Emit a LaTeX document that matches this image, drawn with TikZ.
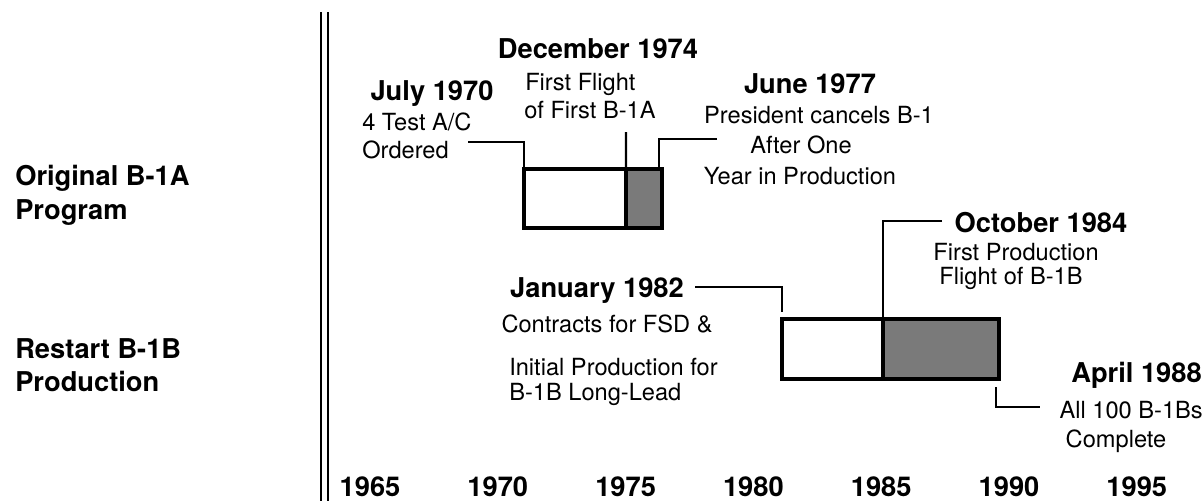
\documentclass[tikz,border=0pt]{standalone}
\usepackage{fontspec}
\setmainfont{TeX Gyre Heros}
\usepackage{tikz}
\usetikzlibrary{positioning,calc}
\definecolor{stipple}{RGB}{122,122,122}

\begin{document}
\begin{tikzpicture}[
    x=0.025cm, y=-0.025cm,
    date/.style={font=\fontsize{19.4}{22}\selectfont\bfseries, inner sep=0pt, anchor=base},
    note/.style={font=\fontsize{16.8}{20}\selectfont, inner sep=0pt, anchor=base},
    phase/.style={draw, line width=2.8pt, inner sep=0pt, outer sep=0pt, anchor=north west},
    leader/.style={line width=1.6pt},
    rule/.style={line width=1.3pt}
]
\useasboundingbox (0,0) rectangle (1204,501);

% row labels
\node[date, anchor=base west] (orig1) at (15,185) {Original B-1A};
\node[date, anchor=base west] (orig2) at (15,219) {Program};
\node[date, anchor=base west] (rest1) at (15,358) {Restart B-1B};
\node[date, anchor=base west] (rest2) at (15,391) {Production};

% separator
\draw[rule] (321,12) -- (321,501);
\draw[rule] (328,12) -- (328,501);

% B-1A program
\node[phase, minimum width=2.55cm, minimum height=1.475cm] (a1) at (524,169) {};
\node[phase, fill=stipple, minimum width=0.9cm, minimum height=1.475cm] (a2) at (a1.north east) {};

% B-1B program
\node[phase, minimum width=2.525cm, minimum height=1.5cm] (b1) at (782,319) {};
\node[phase, fill=stipple, minimum width=2.9cm, minimum height=1.5cm] (b2) at (b1.north east) {};

% July 1970
\node[date] (jul) at (432,100) {July 1970};
\node[note, anchor=base west] (jul1) at (362,130) {4 Test A/C};
\node[note, anchor=base west] (jul2) at (362,158) {Ordered};
\coordinate (julend) at (468,142);
\draw[leader] (julend) -| (a1.north west);

% December 1974
\node[date] (dec) at (598,58) {December 1974};
\node[note, anchor=base west] (dec1) at (525,90) {First Flight};
\node[note, anchor=base west] (dec2) at (524,118) {of First B-1A};
\coordinate (decend) at (626,132);
\draw[leader] (decend) -- (a1.north east);

% June 1977
\node[date] (jun) at (810,93) {June 1977};
\node[note] (jun1) at (819,123) {President cancels B-1};
\node[note] (jun2) at (801,153) {After One};
\node[note] (jun3) at (800,184) {Year in Production};
\coordinate (junend) at (717,139);
\draw[leader] (junend) -| ($(a2.north east)+(-3,0)$);

% January 1982
\node[date] (jan) at (597,297) {January 1982};
\node[note] (jan1) at (607,332) {Contracts for FSD \&};
\node[note, anchor=base west] (jan2) at (509,375) {Initial Production for};
\node[note, anchor=base west] (jan3) at (509,400) {B-1B Long-Lead};
\coordinate (janend) at (695,287);
\draw[leader] (janend) -| ($(b1.north west)+(0,-7)$);

% October 1984
\node[date] (oct) at (1041,232) {October 1984};
\node[note] (oct1) at (1016,260) {First Production};
\node[note] (oct2) at (1011,284) {Flight of B-1B};
\coordinate (octend) at (942,221);
\draw[leader] (octend) -| (b1.north east);

% April 1988
\node[date, anchor=base east] (apr) at (1202,382) {April 1988};
\node[note, anchor=base east] (apr1) at (1203,418) {All 100 B-1Bs};
\node[note] (apr2) at (1116,447) {Complete};
\coordinate (aprend) at (1040,407);
\draw[leader] ($(b2.south east)+(-3,8)$) |- (aprend);

% time axis
\foreach \i in {0,...,6} {
  \pgfmathtruncatemacro{\yr}{1965+5*\i}
  \node[date] (y\yr) at (370+127.8*\i,496) {\yr};
}
\end{tikzpicture}
\end{document}
